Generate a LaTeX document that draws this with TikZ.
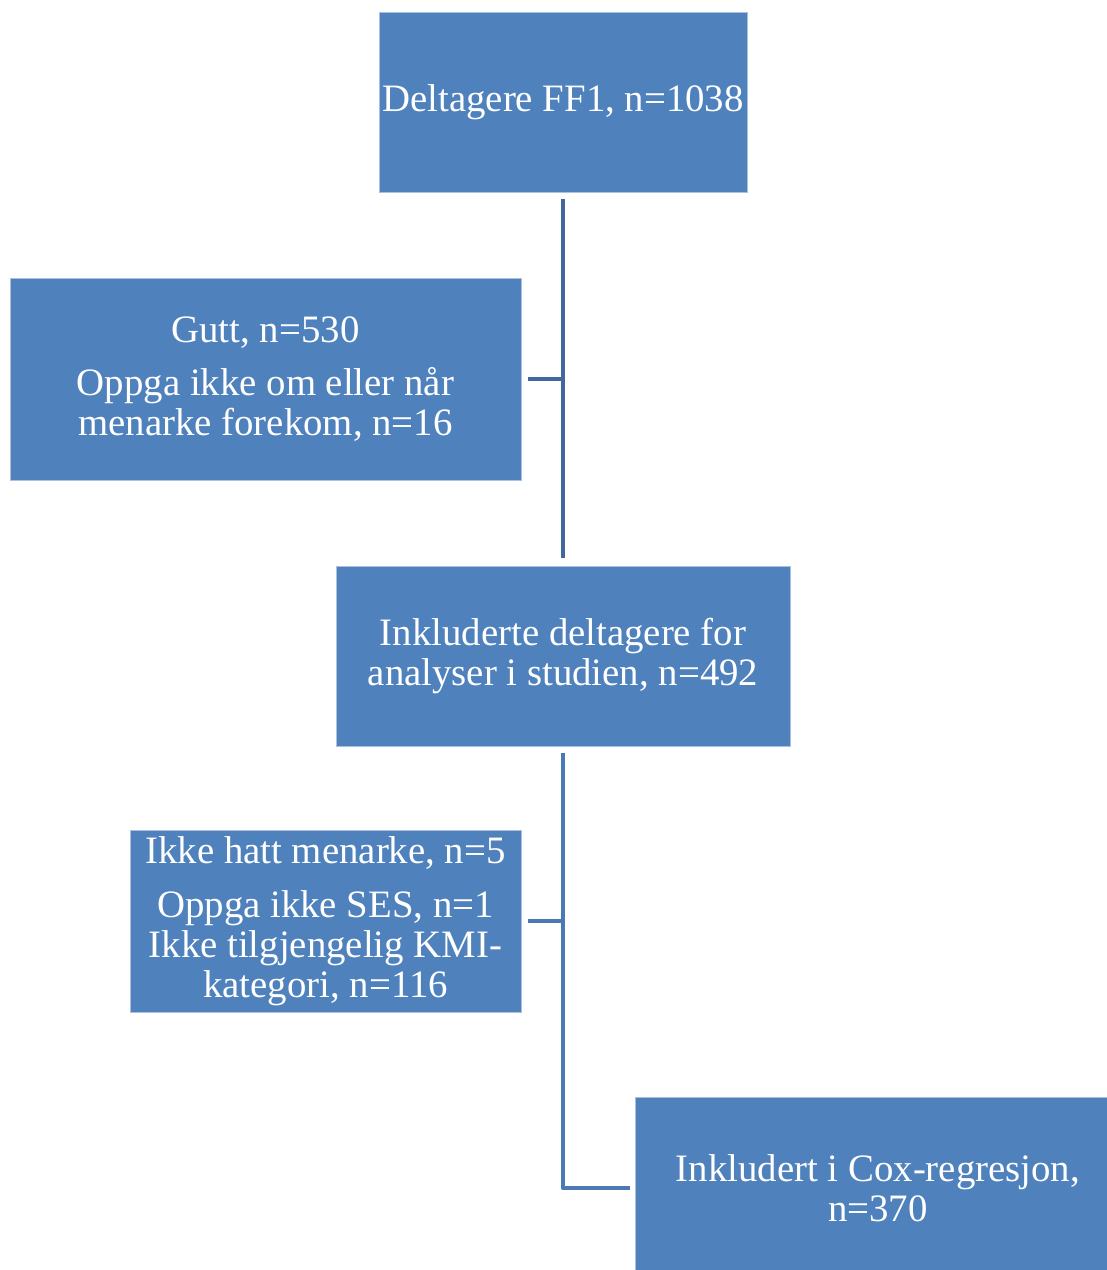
\documentclass[tikz,border=0pt]{standalone}
\usepackage{fontspec}
\setmainfont{Liberation Serif}
\usetikzlibrary{positioning}
\definecolor{boxblue}{HTML}{4F81BD}
\definecolor{boxedge}{HTML}{A9C1DE}
\definecolor{linetop}{HTML}{41689C}
\definecolor{linebottom}{HTML}{4A79B4}
\tikzstyle{flowbox}=[rectangle,fill=boxblue,draw=boxedge,line width=1pt,text=white,align=center,inner sep=0,font=\fontsize{38.8}{40}\selectfont]
\tikzstyle{conn}=[line width=4.8pt,line join=round]
\newcommand{\flownode}[5]{\node[flowbox, minimum width=#3, minimum height=#4] (#1) at (#2) {#5};}

\begin{document}
\begin{tikzpicture}[x=1pt,y=-1pt]
\useasboundingbox (0,0) rectangle (1107,1270);
\flownode{ff}{563,102}{368pt}{180pt}{\raisebox{-4pt}{Deltagere FF1, n=1038}}
\flownode{gutt}{265.5,379}{511pt}{202pt}{Gutt, n=530\\[13pt]Oppga ikke om eller når\\menarke forekom, n=16}
\flownode{inkl}{563,656}{454pt}{180pt}{Inkluderte deltagere for\\analyser i studien, n=492}
\flownode{menarke}{325.5,921}{391pt}{182pt}{Ikke hatt menarke, n=5\\[14pt]Oppga ikke SES, n=1\\Ikke tilgjengelig KMI-\\kategori, n=116}
\flownode{cox}{878,1188}{486pt}{182pt}{Inkludert i Cox-regresjon,\\n=370}

\coordinate (trunkA) at (ff.south |- gutt.east);
\coordinate (trunkB) at (inkl.south |- menarke.east);

\draw[conn, linetop, shorten <=6pt, shorten >=8pt] (ff) -- (inkl);
\draw[conn, linetop, shorten <=6pt] (gutt) -- (trunkA);
\draw[conn, linebottom, shorten <=6pt, shorten >=5pt] (inkl) |- (cox);
\draw[conn, linebottom, shorten <=6pt] (menarke) -- (trunkB);
\end{tikzpicture}
\end{document}
